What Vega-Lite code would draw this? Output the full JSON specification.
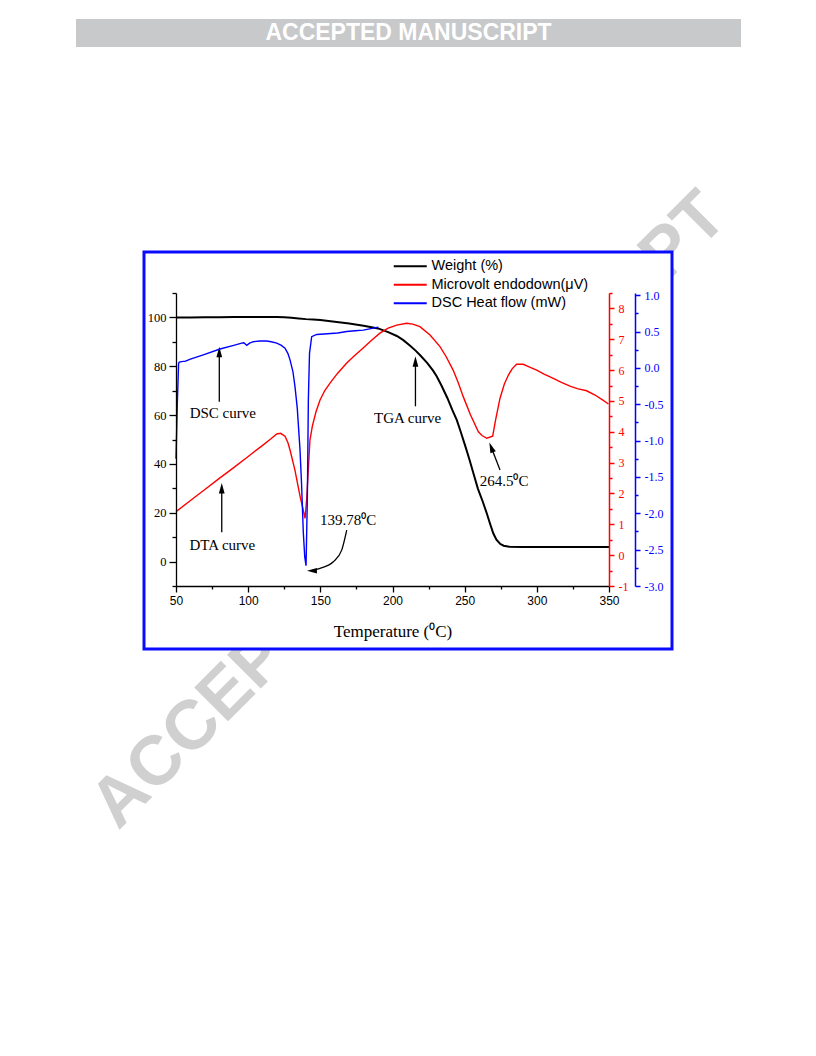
{
  "$schema": "https://vega.github.io/schema/vega-lite/v6.json",
  "width": 433,
  "height": 293,
  "autosize": {"type": "none"},
  "padding": {"left": 176, "top": 293, "right": 207, "bottom": 470},
  "background": "white",
  "config": {"view": {"stroke": null}, "axis": {"grid": false, "zindex": 1, "labelFlush": false}},
  "datasets": {
    "one": [{"item": "decoration"}],
    "weight": [
      {"T":50,"W":100.0},{"T":60,"W":100.0},{"T":70,"W":100.05},{"T":80,"W":100.1},{"T":90,"W":100.15},{"T":100,"W":100.2},{"T":110,"W":100.2},{"T":120,"W":100.15},{"T":125,"W":100.05},{"T":130,"W":99.85},{"T":135,"W":99.6},{"T":140,"W":99.3},{"T":145,"W":99.1},{"T":150,"W":98.9},{"T":160,"W":98.2},{"T":170,"W":97.5},{"T":180,"W":96.6},{"T":190,"W":95.5},{"T":197,"W":94.0},{"T":203,"W":92.4},{"T":207.5,"W":90.7},{"T":212,"W":88.5},{"T":216,"W":86.4},{"T":219,"W":84.6},{"T":224,"W":81.4},{"T":228,"W":78.3},{"T":230.6,"W":75.9},{"T":234,"W":72.0},{"T":238,"W":67.0},{"T":241.5,"W":62.0},{"T":244.5,"W":58.0},{"T":246.8,"W":54.0},{"T":250.5,"W":47.2},{"T":253.3,"W":41.8},{"T":256,"W":36.3},{"T":259.2,"W":29.8},{"T":262.5,"W":24.6},{"T":265.3,"W":19.8},{"T":267.6,"W":15.5},{"T":269.8,"W":11.6},{"T":272,"W":9.0},{"T":274.5,"W":7.3},{"T":277,"W":6.5},{"T":281,"W":6.1},{"T":290,"W":6.0},{"T":350,"W":6.0}
    ],
    "dta": [
      {"T":50,"V":1.41},{"T":60,"V":1.77},{"T":70,"V":2.13},{"T":80,"V":2.49},{"T":90,"V":2.84},{"T":100,"V":3.2},{"T":110,"V":3.56},{"T":116,"V":3.78},{"T":119.8,"V":3.93},{"T":122.5,"V":3.95},{"T":125.5,"V":3.86},{"T":127.5,"V":3.65},{"T":129,"V":3.41},{"T":132.4,"V":2.76},{"T":136,"V":1.9},{"T":138,"V":1.5},{"T":139.4,"V":1.19},{"T":140.5,"V":1.79},{"T":142.8,"V":3.73},{"T":144.5,"V":4.19},{"T":147,"V":4.65},{"T":149.8,"V":5.03},{"T":153,"V":5.33},{"T":156.7,"V":5.58},{"T":162,"V":5.9},{"T":168.3,"V":6.23},{"T":174,"V":6.48},{"T":179.7,"V":6.72},{"T":185.5,"V":6.97},{"T":191.3,"V":7.2},{"T":197,"V":7.36},{"T":202.9,"V":7.46},{"T":209.8,"V":7.52},{"T":214,"V":7.49},{"T":219,"V":7.41},{"T":226,"V":7.14},{"T":232.9,"V":6.76},{"T":237,"V":6.45},{"T":242,"V":6.0},{"T":245.5,"V":5.6},{"T":249,"V":5.14},{"T":254,"V":4.55},{"T":259.5,"V":4.0},{"T":262,"V":3.88},{"T":265.3,"V":3.79},{"T":269.4,"V":3.86},{"T":271.5,"V":4.4},{"T":274.5,"V":5.09},{"T":277.5,"V":5.55},{"T":280.3,"V":5.84},{"T":283,"V":6.05},{"T":286,"V":6.19},{"T":290.6,"V":6.19},{"T":295,"V":6.1},{"T":299.9,"V":6.0},{"T":305,"V":5.87},{"T":311.4,"V":5.73},{"T":317,"V":5.6},{"T":323,"V":5.48},{"T":328,"V":5.4},{"T":334.5,"V":5.33},{"T":340,"V":5.2},{"T":345,"V":5.05},{"T":349.6,"V":4.9}
    ],
    "dsc": [
      {"T":50.0,"H":-1.25},{"T":50.9,"H":-0.5},{"T":51.8,"H":0.06},{"T":52.3,"H":0.08},{"T":55,"H":0.09},{"T":56.2,"H":0.09},{"T":60,"H":0.12},{"T":68.9,"H":0.18},{"T":80.5,"H":0.26},{"T":90,"H":0.31},{"T":95.5,"H":0.34},{"T":97,"H":0.345},{"T":99,"H":0.31},{"T":101,"H":0.34},{"T":103.6,"H":0.36},{"T":108,"H":0.37},{"T":112.8,"H":0.37},{"T":116,"H":0.36},{"T":119.8,"H":0.34},{"T":123,"H":0.31},{"T":125.5,"H":0.27},{"T":127.5,"H":0.2},{"T":129,"H":0.11},{"T":131,"H":-0.05},{"T":132.4,"H":-0.25},{"T":134,"H":-0.55},{"T":135.9,"H":-1.12},{"T":137,"H":-1.6},{"T":138.2,"H":-2.26},{"T":139.2,"H":-2.6},{"T":140.1,"H":-2.72},{"T":141,"H":-1.8},{"T":141.7,"H":-0.44},{"T":142.5,"H":0.2},{"T":144,"H":0.43},{"T":147.5,"H":0.46},{"T":155,"H":0.47},{"T":162,"H":0.48},{"T":168.3,"H":0.5},{"T":174,"H":0.51},{"T":179.8,"H":0.52},{"T":185,"H":0.54},{"T":190.2,"H":0.56}
    ],
    "notes": [
      {"T":82.4,"W":61.0,"label":"DSC curve"},
      {"T":82.1,"W":6.8,"label":"DTA curve"},
      {"T":210.5,"W":58.8,"label":"TGA curve"},
      {"T":169.2,"W":17.0,"label":"139.78⁰C"},
      {"T":277.3,"W":32.8,"label":"264.5⁰C"}
    ],
    "arrows": [
      {"T":80.0,"W":65.5,"T2":80.0,"W2":85.8},
      {"T":81.7,"W":12.0,"T2":81.7,"W2":30.0},
      {"T":215.9,"W":63.6,"T2":215.9,"W2":81.9},
      {"T":274.5,"W":37.5,"T2":268.4,"W2":46.8}
    ],
    "heads": [
      {"T":80.0,"W":85.8,"dir":"up"},
      {"T":81.7,"W":30.0,"dir":"up"},
      {"T":215.9,"W":81.9,"dir":"up"},
      {"T":268.4,"W":46.8,"dir":"tilt"},
      {"T":144.2,"W":-3.73,"dir":"left"}
    ],
    "curve": [
      {"T":168.3,"W":12.9},{"T":164.8,"W":4.7},{"T":159.0,"W":-0.05},{"T":149.8,"W":-2.75},{"T":144.2,"W":-3.73}
    ]
  },
  "layer": [
    {
      "data": {"name": "one"},
      "layer": [
        {
          "mark": {"type": "text", "font": "Liberation Sans", "fontWeight": "bold", "fontSize": 69.5, "angle": -45, "fill": "#d0d0d0", "align": "center", "baseline": "middle"},
          "encoding": {
            "x": {"datum": 211.5, "type": "quantitative", "scale": {"domain": [50, 350], "nice": false, "zero": false},
              "axis": {"orient": "bottom", "zindex": 1, "values": [75,125,175,225,275,325], "tickSize": 3, "tickColor": "black", "tickWidth": 1.3, "labels": false, "domain": false, "title": null}},
            "y": {"datum": 21.0, "type": "quantitative", "scale": {"domain": [-10, 110], "nice": false, "zero": false},
              "axis": {"orient": "left", "zindex": 1, "values": [-10,10,30,50,70,90,110], "tickSize": 4, "tickColor": "black", "tickWidth": 1.3, "labels": false, "domain": false, "title": null}},
            "text": {"value": "ACCEPTED MANUSCRIPT"}
          }
        },
        {
          "mark": {"type": "rect", "fill": "white", "stroke": "#0a0aff", "strokeWidth": 3},
          "encoding": {
            "x": {"datum": 27.83, "type": "quantitative", "scale": {"domain": [50, 350], "nice": false, "zero": false},
              "axis": {"orient": "bottom", "zindex": 1, "values": [75,125,175,225,275,325], "tickSize": 3, "tickColor": "black", "tickWidth": 1.3, "labels": false, "domain": false, "title": null}},
            "x2": {"datum": 393.65},
            "y": {"datum": 126.79, "type": "quantitative", "scale": {"domain": [-10, 110], "nice": false, "zero": false},
              "axis": {"orient": "left", "zindex": 1, "values": [-10,10,30,50,70,90,110], "tickSize": 4, "tickColor": "black", "tickWidth": 1.3, "labels": false, "domain": false, "title": null}},
            "y2": {"datum": -35.8}
          }
        },
        {
          "mark": {"type": "rect", "fill": "#c8c9cb"},
          "encoding": {
            "x": {"datum": -19.28, "type": "quantitative", "scale": {"domain": [50, 350], "nice": false, "zero": false},
              "axis": {"orient": "bottom", "zindex": 1, "values": [75,125,175,225,275,325], "tickSize": 3, "tickColor": "black", "tickWidth": 1.3, "labels": false, "domain": false, "title": null}},
            "x2": {"datum": 441.45},
            "y": {"datum": 222.2, "type": "quantitative", "scale": {"domain": [-10, 110], "nice": false, "zero": false},
              "axis": {"orient": "left", "zindex": 1, "values": [-10,10,30,50,70,90,110], "tickSize": 4, "tickColor": "black", "tickWidth": 1.3, "labels": false, "domain": false, "title": null}},
            "y2": {"datum": 210.75}
          }
        },
        {
          "mark": {"type": "text", "font": "Liberation Sans", "fontWeight": "bold", "fontSize": 23, "fill": "white", "align": "center", "baseline": "middle"},
          "encoding": {
            "x": {"datum": 211.1, "type": "quantitative", "scale": {"domain": [50, 350], "nice": false, "zero": false},
              "axis": {"orient": "bottom", "zindex": 1, "values": [75,125,175,225,275,325], "tickSize": 3, "tickColor": "black", "tickWidth": 1.3, "labels": false, "domain": false, "title": null}},
            "y": {"datum": 216.5, "type": "quantitative", "scale": {"domain": [-10, 110], "nice": false, "zero": false},
              "axis": {"orient": "left", "zindex": 1, "values": [-10,10,30,50,70,90,110], "tickSize": 4, "tickColor": "black", "tickWidth": 1.3, "labels": false, "domain": false, "title": null}},
            "text": {"value": "ACCEPTED MANUSCRIPT"}
          }
        }
      ]
    },
    {
      "layer": [
        {
          "data": {"name": "weight"},
          "mark": {"type": "line", "strokeWidth": 2},
          "encoding": {
            "x": {"field": "T", "type": "quantitative", "scale": {"domain": [50, 350], "nice": false, "zero": false},
              "axis": {"orient": "bottom", "zindex": 1, "values": [50,100,150,200,250,300,350], "tickSize": 6, "labelFlush": false,
                "labelFont": "Liberation Sans", "labelFontSize": 12, "labelColor": "black", "labelPadding": 3,
                "domainColor": "black", "tickColor": "black", "domainWidth": 1.3, "tickWidth": 1.3,
                "title": "Temperature (⁰C)", "titleFont": "Liberation Serif", "titleFontSize": 17, "titleFontWeight": "normal", "titleColor": "black", "titlePadding": 17}},
            "y": {"field": "W", "type": "quantitative", "scale": {"domain": [-10, 110], "nice": false, "zero": false},
              "axis": {"orient": "left", "zindex": 1, "values": [0,20,40,60,80,100], "tickSize": 7,
                "labelFont": "Liberation Serif", "labelFontSize": 12.5, "labelColor": "black", "labelPadding": 3,
                "domainColor": "black", "tickColor": "black", "domainWidth": 1.3, "tickWidth": 1.3, "title": null}},
            "color": {"datum": "Weight (%)", "type": "nominal",
              "scale": {"domain": ["Weight (%)", "Microvolt endodown(μV)", "DSC Heat flow (mW)"], "range": ["#000000", "#ff0000", "#0000ff"]},
              "legend": {"orient": "none", "legendX": 227, "legendY": -34, "title": null, "padding": 0,
                "symbolType": "M-3,0H3", "symbolSize": 121, "symbolStrokeWidth": 1.8,
                "labelFont": "Liberation Sans", "labelFontSize": 14.5, "labelColor": "black", "labelOffset": 14, "rowPadding": 3.5}}
          }
        },
        {
          "data": {"name": "notes"},
          "mark": {"type": "text", "font": "Liberation Serif", "fontSize": 15, "fill": "black", "align": "center", "baseline": "middle"},
          "encoding": {
            "x": {"field": "T", "type": "quantitative"},
            "y": {"field": "W", "type": "quantitative"},
            "text": {"field": "label"}
          }
        },
        {
          "data": {"name": "arrows"},
          "mark": {"type": "rule", "color": "black", "strokeWidth": 1.3},
          "encoding": {
            "x": {"field": "T", "type": "quantitative"},
            "x2": {"field": "T2"},
            "y": {"field": "W", "type": "quantitative"},
            "y2": {"field": "W2"}
          }
        },
        {
          "data": {"name": "curve"},
          "mark": {"type": "line", "color": "black", "strokeWidth": 1.3, "interpolate": "monotone"},
          "encoding": {
            "x": {"field": "T", "type": "quantitative"},
            "y": {"field": "W", "type": "quantitative"}
          }
        },
        {
          "data": {"name": "heads"},
          "transform": [{"filter": "datum.dir === 'up'"}],
          "mark": {"type": "point", "shape": "M0,-1L0.55,1L-0.55,1Z", "size": 110, "filled": true, "color": "black", "opacity": 1},
          "encoding": {
            "x": {"field": "T", "type": "quantitative"},
            "y": {"field": "W", "type": "quantitative"}
          }
        },
        {
          "data": {"name": "heads"},
          "transform": [{"filter": "datum.dir === 'tilt'"}],
          "mark": {"type": "point", "shape": "M0,-1L0.55,1L-0.55,1Z", "size": 110, "angle": -21, "filled": true, "color": "black", "opacity": 1},
          "encoding": {
            "x": {"field": "T", "type": "quantitative"},
            "y": {"field": "W", "type": "quantitative"}
          }
        },
        {
          "data": {"name": "heads"},
          "transform": [{"filter": "datum.dir === 'left'"}],
          "mark": {"type": "point", "shape": "M0,-1L0.55,1L-0.55,1Z", "size": 100, "angle": -90, "filled": true, "color": "black", "opacity": 1},
          "encoding": {
            "x": {"field": "T", "type": "quantitative"},
            "y": {"field": "W", "type": "quantitative"}
          }
        }
      ]
    },
    {
      "data": {"name": "dta"},
      "mark": {"type": "line", "strokeWidth": 1.4},
      "encoding": {
        "x": {"field": "T", "type": "quantitative", "scale": {"domain": [50, 350], "nice": false, "zero": false}, "axis": null},
        "y": {"field": "V", "type": "quantitative", "scale": {"domain": [-1, 8.5], "nice": false, "zero": false},
          "axis": {"orient": "right", "zindex": 1, "values": [-1,-0.5,0,0.5,1,1.5,2,2.5,3,3.5,4,4.5,5,5.5,6,6.5,7,7.5,8,8.5],
            "labelExpr": "datum.value % 1 === 0 ? '' + datum.value : ''",
            "tickSize": {"condition": {"test": "datum.value % 1 === 0", "value": 5}, "value": 3},
            "labelFont": "Liberation Serif", "labelFontSize": 12, "labelColor": "#ff0000", "labelPadding": 4,
            "domainColor": "#ff0000", "tickColor": "#ff0000", "domainWidth": 1.5, "tickWidth": 1.5, "title": null}},
        "color": {"datum": "Microvolt endodown(μV)", "type": "nominal",
          "scale": {"domain": ["Weight (%)", "Microvolt endodown(μV)", "DSC Heat flow (mW)"], "range": ["#000000", "#ff0000", "#0000ff"]}}
      }
    },
    {
      "data": {"name": "dsc"},
      "mark": {"type": "line", "strokeWidth": 1.4},
      "encoding": {
        "x": {"field": "T", "type": "quantitative", "scale": {"domain": [50, 350], "nice": false, "zero": false}, "axis": null},
        "y": {"field": "H", "type": "quantitative", "scale": {"domain": [-3, 1.03], "nice": false, "zero": false},
          "axis": {"orient": "right", "zindex": 1, "offset": 26, "values": [-3,-2.75,-2.5,-2.25,-2,-1.75,-1.5,-1.25,-1,-0.75,-0.5,-0.25,0,0.25,0.5,0.75,1],
            "labelExpr": "datum.value % 0.5 === 0 ? replace(format(datum.value, '.1f'), '−', '-') : ''",
            "tickSize": {"condition": {"test": "datum.value % 0.5 === 0", "value": 5}, "value": 3},
            "labelFont": "Liberation Serif", "labelFontSize": 12, "labelColor": "#0000ff", "labelPadding": 4,
            "domainColor": "#0000ff", "tickColor": "#0000ff", "domainWidth": 1.5, "tickWidth": 1.5, "title": null}},
        "color": {"datum": "DSC Heat flow (mW)", "type": "nominal",
          "scale": {"domain": ["Weight (%)", "Microvolt endodown(μV)", "DSC Heat flow (mW)"], "range": ["#000000", "#ff0000", "#0000ff"]}}
      }
    }
  ],
  "resolve": {"scale": {"x": "independent", "y": "independent"}}
}
